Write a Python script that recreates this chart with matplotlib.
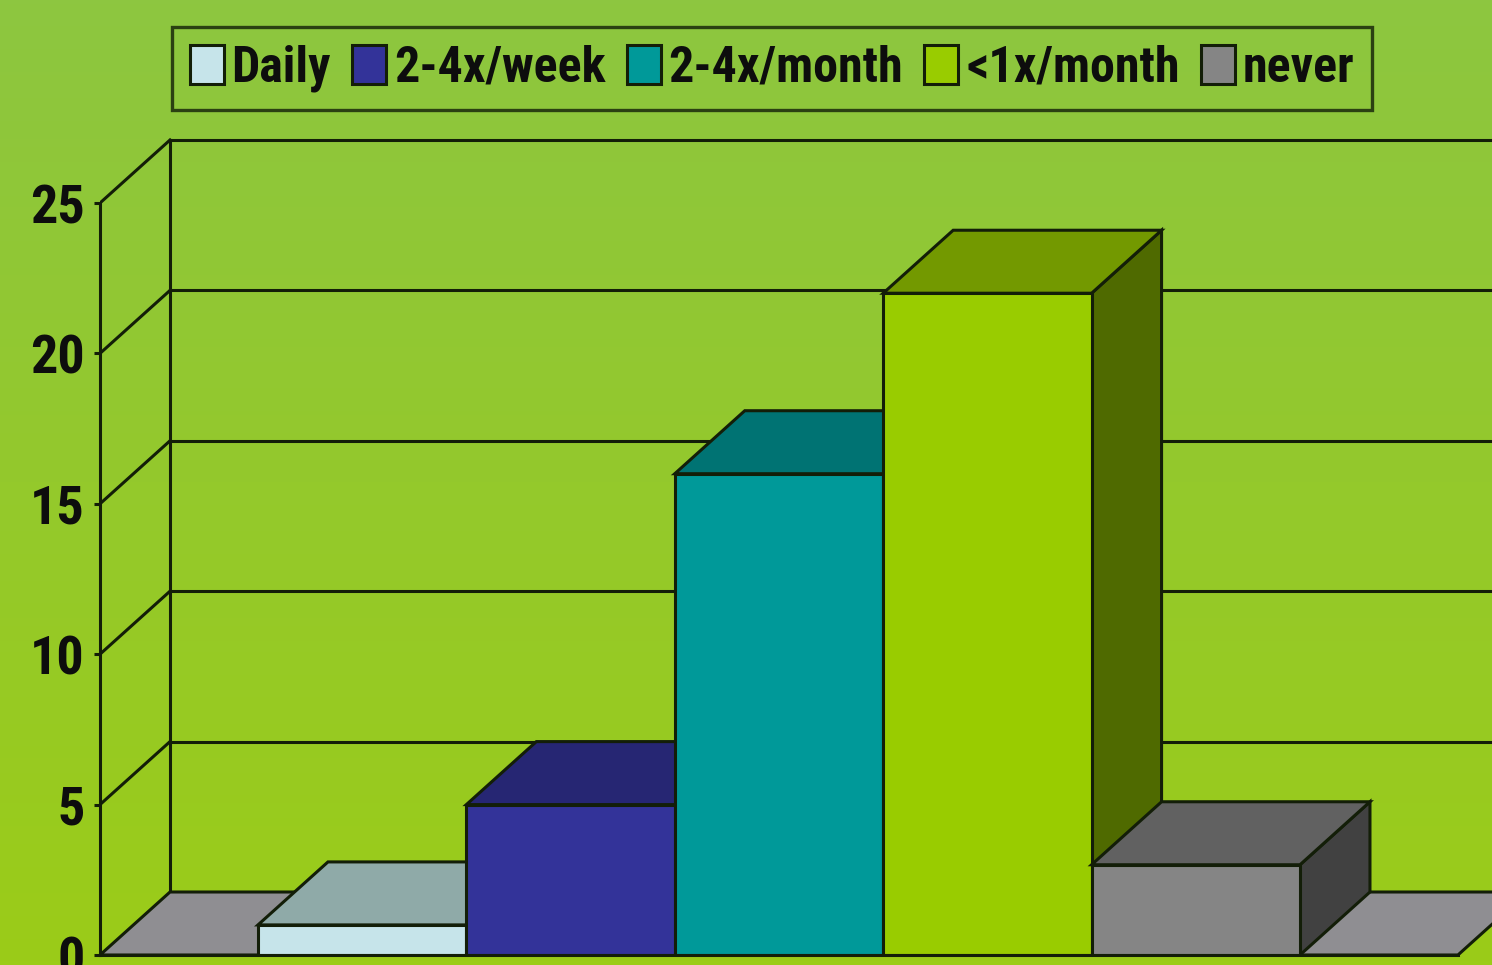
import numpy as np
import matplotlib
matplotlib.use('Agg')
import matplotlib.pyplot as plt
from matplotlib.patches import Patch

# data
labels = ['Daily', '2-4x/week', '2-4x/month', '<1x/month', 'never']
values = [1, 5, 16, 22, 3]
front_colors = ['#c6e4ea', '#333399', '#009999', '#99cc00', '#858585']
top_colors = ['#8faaa8', '#262673', '#007373', '#739900', '#616161']
side_colors = ['#7d9a98', '#1c1c55', '#005555', '#4f6a00', '#414141']
yticks = [0, 5, 10, 15, 20, 25]

plt.rcParams['font.family'] = ['Roboto Condensed', 'Open Sans Condensed',
                               'Roboto', 'DejaVu Sans']
plt.rcParams['font.weight'] = 'bold'
plt.rcParams['font.stretch'] = 'condensed'

W, H = 1492, 965
fig = plt.figure(figsize=(W / 100, H / 100), dpi=100)

# background gradient
bg = fig.add_axes([0, 0, 1, 1])
top = np.array([141, 198, 64]) / 255.
bot = np.array([155, 204, 24]) / 255.
tt = np.linspace(0, 1, 256)[:, None]
grad = (top[None, :] * (1 - tt) + bot[None, :] * tt)[:, None, :]
bg.imshow(grad, aspect='auto', extent=[0, 1, 0, 1])
bg.axis('off')

ink = '#131e08'
lw = 2.2

# geometry: one category unit per bar, value units on y
px_cat = 208.4
px_val = 30.08
x_front = -0.758          # front axis position
dx = 70 / px_cat           # depth offset
dy = 63 / px_val
n = len(values)
x_end = n - x_front        # floor right edge

ax = fig.add_axes([100 / W, 10 / H, (W - 100) / W, 955 / H])
ax.set_facecolor('none')
ax.set_xlim(x_front, x_front + (W - 100) / px_cat)
ax.set_ylim(0, 955 / px_val)

# back wall grid and side wall diagonals
for v in yticks[1:]:
    ax.plot([x_front + dx, 10], [v + dy, v + dy], color=ink, lw=lw, zorder=1)
    ax.plot([x_front, x_front + dx], [v, v + dy], color=ink, lw=lw, zorder=1)
ax.plot([x_front + dx, x_front + dx], [dy, yticks[-1] + dy], color=ink, lw=lw, zorder=1)

# floor
ax.fill([x_front, x_end, x_end + dx, x_front + dx],
        [0, 0, dy, dy], facecolor='#8f8e92', edgecolor=ink, lw=lw, zorder=2)

# bars, left to right
for i, v in enumerate(values):
    z = 3 + i
    ax.fill([i + 1, i + 1 + dx, i + 1 + dx, i + 1], [0, dy, v + dy, v],
            facecolor=side_colors[i], edgecolor=ink, lw=lw, zorder=z)
    ax.fill([i, i + 1, i + 1 + dx, i + dx], [v, v, v + dy, v + dy],
            facecolor=top_colors[i], edgecolor=ink, lw=lw, zorder=z)
    ax.fill([i, i + 1, i + 1, i], [0, 0, v, v],
            facecolor=front_colors[i], edgecolor=ink, lw=lw, zorder=z)

# axes spines / ticks
for s in ['top', 'right']:
    ax.spines[s].set_visible(False)
ax.spines['left'].set_position(('data', x_front))
ax.spines['left'].set_bounds(0, yticks[-1])
ax.spines['bottom'].set_bounds(x_front, x_end)
for s in ['left', 'bottom']:
    ax.spines[s].set_color(ink)
    ax.spines[s].set_linewidth(lw)
    ax.spines[s].set_zorder(10)
ax.set_xticks([])
ax.set_yticks(yticks)
ax.tick_params(axis='y', length=4, width=lw, color=ink, pad=7,
               labelsize=39, labelcolor='#0d0d0d')

handles = [Patch(facecolor=c, edgecolor=ink, lw=lw) for c in front_colors]
leg = fig.legend(handles, labels, loc='center', ncol=5,
                 bbox_to_anchor=(772 / W, 1 - 68.5 / H),
                 fontsize=36, frameon=True, fancybox=False,
                 handlelength=0.68, handleheight=0.84, handletextpad=0.16,
                 columnspacing=0.42, borderpad=0.35)
leg.get_frame().set_facecolor('none')
leg.get_frame().set_edgecolor(ink)
leg.get_frame().set_linewidth(2.4)
for t in leg.get_texts():
    t.set_color('#0d0d0d')

fig.savefig('out.png', dpi=100)
